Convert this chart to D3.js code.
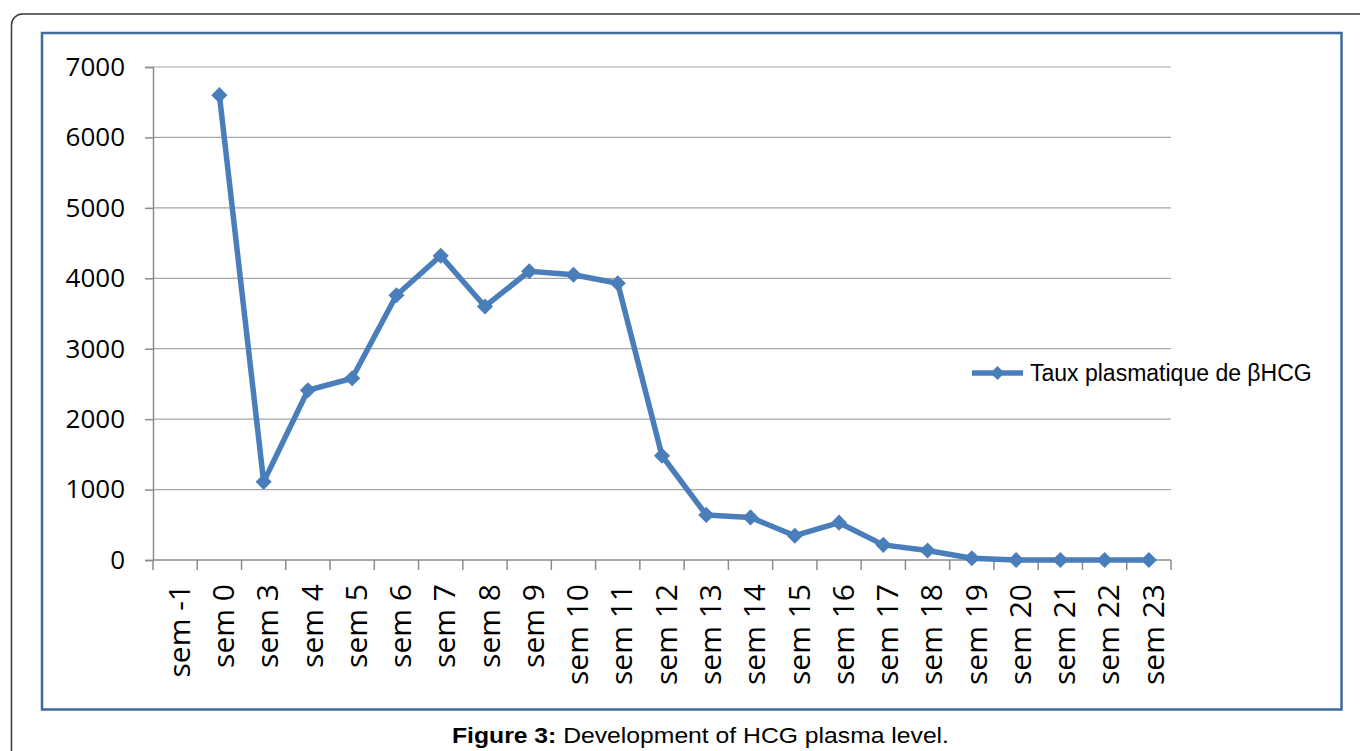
<!DOCTYPE html>
<html>
<head>
<meta charset="utf-8">
<script src="https://cdn.jsdelivr.net/npm/d3@7"></script>
<style>
  body { margin: 0; background: #fff; }
  svg { display: block; }
</style>
</head>
<body>
<svg></svg>
<script>
const width = 1360;
const height = 751;

// data
const weeks = ['sem -1', 'sem 0', 'sem 3', 'sem 4', 'sem 5', 'sem 6', 'sem 7', 'sem 8', 'sem 9', 'sem 10',
    'sem 11', 'sem 12', 'sem 13', 'sem 14', 'sem 15', 'sem 16', 'sem 17', 'sem 18', 'sem 19', 'sem 20',
    'sem 21', 'sem 22', 'sem 23'];
const hcgLevels = [null, 6600, 1110, 2410, 2580, 3760, 4320, 3600, 4100, 4050,
    3930, 1480, 640, 605, 345, 530, 215, 135, 25, 0,
    0, 0, 0];
const yTicks = [0, 1000, 2000, 3000, 4000, 5000, 6000, 7000];
const seriesName = 'Taux plasmatique de βHCG';

const lineColor = '#4a7ebb';
const gridColor = '#a6a6a6';
const axisColor = '#8c8c8c';
const labelFont = '"Open Sans", sans-serif';

const svg = d3.select('svg')
    .attr('width', width)
    .attr('height', height);

// outer page frame (runs off the right and bottom)
svg.append('rect')
    .attr('x', 11.5)
    .attr('y', 14)
    .attr('width', 1400)
    .attr('height', 800)
    .attr('rx', 11)
    .attr('fill', 'none')
    .attr('stroke', '#3a3a3a')
    .attr('stroke-width', 1.5);

// blue chart border
svg.append('rect')
    .attr('x', 42)
    .attr('y', 33)
    .attr('width', 1299.5)
    .attr('height', 676.5)
    .attr('fill', '#fff')
    .attr('stroke', '#41699c')
    .attr('stroke-width', 2.5);

const plot = { left: 153, right: 1171, top: 67, bottom: 560 };

const x = d3.scaleBand()
    .domain(weeks)
    .range([plot.left, plot.right]);

const y = d3.scaleLinear()
    .domain([0, 7000])
    .range([plot.bottom, plot.top]);

const g = svg.append('g');

// horizontal gridlines
g.selectAll('line.grid')
    .data(yTicks.filter(d => d > 0))
    .enter().append('line')
    .attr('class', 'grid')
    .attr('x1', plot.left)
    .attr('x2', plot.right)
    .attr('y1', d => y(d))
    .attr('y2', d => y(d))
    .attr('stroke', gridColor)
    .attr('stroke-width', 1.2);

// y axis
const yAxis = g.append('g')
    .attr('transform', `translate(${plot.left},0)`)
    .call(d3.axisLeft(y).tickValues(yTicks).tickSize(8).tickPadding(20).tickFormat(d3.format('d')));
yAxis.select('.domain').attr('stroke', axisColor).attr('stroke-width', 1.5);
yAxis.selectAll('.tick line').attr('stroke', axisColor).attr('stroke-width', 1.5);
yAxis.selectAll('.tick text')
    .attr('fill', '#000')
    .style('font-family', labelFont)
    .style('font-size', '26px');

// x axis: ticks on category boundaries
const boundaries = weeks.map(w => x(w)).concat([plot.right]);
g.append('line')
    .attr('x1', plot.left)
    .attr('x2', plot.right)
    .attr('y1', plot.bottom)
    .attr('y2', plot.bottom)
    .attr('stroke', axisColor)
    .attr('stroke-width', 1.5);
g.selectAll('line.xtick')
    .data(boundaries)
    .enter().append('line')
    .attr('class', 'xtick')
    .attr('x1', d => d)
    .attr('x2', d => d)
    .attr('y1', plot.bottom)
    .attr('y2', plot.bottom + 10)
    .attr('stroke', axisColor)
    .attr('stroke-width', 1.5);

g.selectAll('text.xlabel')
    .data(weeks)
    .enter().append('text')
    .attr('class', 'xlabel')
    .attr('transform', d => `translate(${x(d) + x.bandwidth() / 2 + 4},584) rotate(-90)`)
    .attr('text-anchor', 'end')
    .attr('dy', '0.357em')
    .style('font-family', labelFont)
    .style('font-size', '30px')
    .attr('fill', '#000')
    .text(d => d);

// series
const points = weeks.map((w, i) => ({ week: w, value: hcgLevels[i] }));
const cx = d => x(d.week) + x.bandwidth() / 2;

const line = d3.line()
    .defined(d => d.value !== null)
    .x(cx)
    .y(d => y(d.value));

g.append('path')
    .datum(points)
    .attr('d', line)
    .attr('fill', 'none')
    .attr('stroke', lineColor)
    .attr('stroke-width', 5.5)
    .attr('stroke-linejoin', 'round');

const diamond = d3.symbol().type(d3.symbolSquare).size(130);
g.selectAll('path.marker')
    .data(points.filter(d => d.value !== null))
    .enter().append('path')
    .attr('class', 'marker')
    .attr('d', diamond)
    .attr('transform', d => `translate(${cx(d)},${y(d.value)}) rotate(45)`)
    .attr('fill', lineColor);

// legend
const legend = svg.append('g').attr('transform', 'translate(972,373)');
legend.append('line')
    .attr('x1', 0)
    .attr('x2', 51)
    .attr('stroke', lineColor)
    .attr('stroke-width', 5.5);
legend.append('path')
    .attr('d', d3.symbol().type(d3.symbolSquare).size(100))
    .attr('transform', 'translate(25.5,0) rotate(45)')
    .attr('fill', lineColor);
legend.append('text')
    .attr('x', 58)
    .attr('y', 8)
    .style('font-family', '"Liberation Sans", Arial, sans-serif')
    .style('font-size', '23px')
    .attr('fill', '#000')
    .text(seriesName);

// caption
const caption = svg.append('text')
    .attr('x', 452)
    .attr('y', 743)
    .attr('textLength', 497)
    .attr('lengthAdjust', 'spacingAndGlyphs')
    .style('font-family', '"Liberation Sans", Arial, sans-serif')
    .style('font-size', '21.5px')
    .attr('fill', '#000');
caption.append('tspan').style('font-weight', 'bold').text('Figure 3:');
caption.append('tspan').text(' Development of HCG plasma level.');
</script>
</body>
</html>
